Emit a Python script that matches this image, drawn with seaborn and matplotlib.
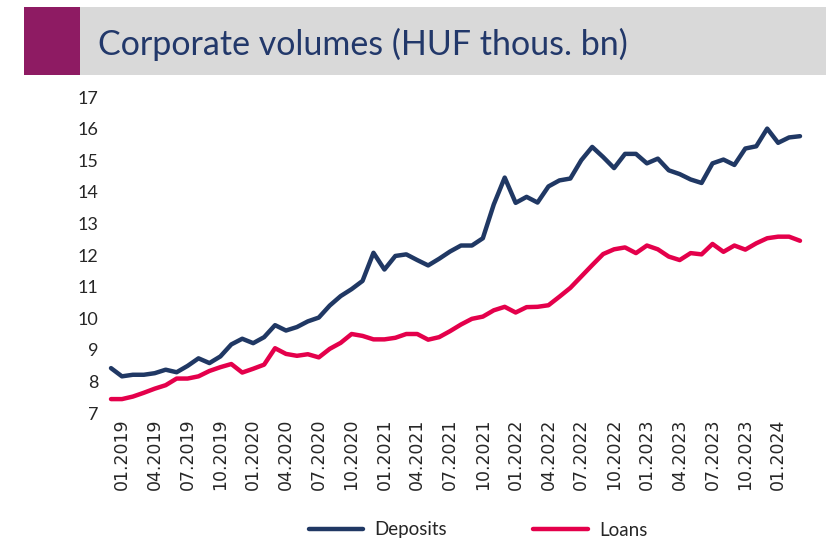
import numpy as np
import pandas as pd
import matplotlib.pyplot as plt
import seaborn as sns
from matplotlib.patches import Rectangle

# monthly data, 12.2018 - 03.2024 (HUF thous. bn)
months = pd.date_range("2018-12-01", "2024-03-01", freq="MS")

deposits = [8.42, 8.16, 8.21, 8.21, 8.26, 8.37, 8.29, 8.49, 8.73, 8.58, 8.79, 9.17,
            9.35, 9.21, 9.40, 9.78, 9.61, 9.72, 9.90, 10.02, 10.40, 10.70, 10.92, 11.18,
            12.07, 11.54, 11.97, 12.02, 11.84, 11.67, 11.88, 12.11, 12.30, 12.30, 12.53, 13.60,
            14.45, 13.65, 13.84, 13.66, 14.17, 14.36, 14.42, 15.00, 15.42, 15.10, 14.75, 15.20,
            15.20, 14.90, 15.05, 14.68, 14.56, 14.39, 14.28, 14.90, 15.02, 14.85, 15.37, 15.44,
            16.00, 15.55, 15.72, 15.76]

loans = [7.44, 7.44, 7.52, 7.64, 7.77, 7.88, 8.09, 8.09, 8.16, 8.33, 8.45, 8.55,
         8.28, 8.40, 8.53, 9.05, 8.87, 8.81, 8.86, 8.76, 9.03, 9.22, 9.50, 9.44,
         9.33, 9.33, 9.38, 9.50, 9.50, 9.32, 9.40, 9.59, 9.80, 9.98, 10.05, 10.25,
         10.36, 10.18, 10.35, 10.36, 10.41, 10.68, 10.96, 11.32, 11.68, 12.03, 12.18, 12.24,
         12.06, 12.30, 12.18, 11.95, 11.84, 12.06, 12.02, 12.35, 12.10, 12.30, 12.17, 12.37,
         12.53, 12.58, 12.58, 12.45]

series = ["Deposits", "Loans"]
colors = ["#203864", "#E4004B"]
yticks = list(range(7, 18))

df = pd.DataFrame({"pos": np.arange(len(months)), "Deposits": deposits, "Loans": loans})
long = df.melt(id_vars="pos", value_vars=series, var_name="series", value_name="value")

sns.set_style("white")
plt.rcParams["font.family"] = ["Lato", "DejaVu Sans"]

W, H = 833, 545
fig = plt.figure(figsize=(W / 100, H / 100), dpi=100)

# title banner
fig.patches.append(Rectangle((24 / W, 1 - 75 / H), (826 - 24) / W, 68 / H,
                             transform=fig.transFigure, facecolor="#D9D9D9", edgecolor="none", zorder=0))
fig.patches.append(Rectangle((24 / W, 1 - 75 / H), (80 - 24) / W, 68 / H,
                             transform=fig.transFigure, facecolor="#8E1B63", edgecolor="none", zorder=1))
fig.text(98 / W, 1 - 44 / H, "Corporate volumes (HUF thous. bn)", fontsize=24.5,
         color="#22386A", va="center", ha="left")

ax = fig.add_axes([111 / W, 1 - 413 / H, (800 - 111) / W, (413 - 97) / H])
sns.lineplot(data=long, x="pos", y="value", hue="series", hue_order=series,
             palette=colors, linewidth=3.2, ax=ax, legend=False)
for ln in ax.get_lines():
    ln.set_solid_capstyle("round")
    ln.set_solid_joinstyle("round")
    ln.set_clip_on(False)

ax.set_xlim(0, len(months) - 1)
ax.set_ylim(7, 17)
ax.set_yticks(yticks)
ax.set_yticklabels([str(v) for v in yticks], fontsize=13)
tick_pos = np.arange(1, len(months), 3)
ax.set_xticks(tick_pos)
ax.set_xticklabels([months[i].strftime("%m.%Y") for i in tick_pos], rotation=90,
                   fontsize=12.5, family="DejaVu Sans")
ax.tick_params(axis="y", length=0, pad=9)
ax.tick_params(axis="x", length=0, pad=4)
ax.set_xlabel("")
ax.set_ylabel("")
sns.despine(ax=ax, left=True, bottom=True)

handles = ax.get_lines()[:2]
fig.legend(handles, series, loc="center", bbox_to_anchor=(478 / W, 1 - 530 / H), ncol=2,
           frameon=False, fontsize=13.5, handlelength=2.9, columnspacing=4.6, handletextpad=0.6)

fig.savefig("out.png", dpi=100)
